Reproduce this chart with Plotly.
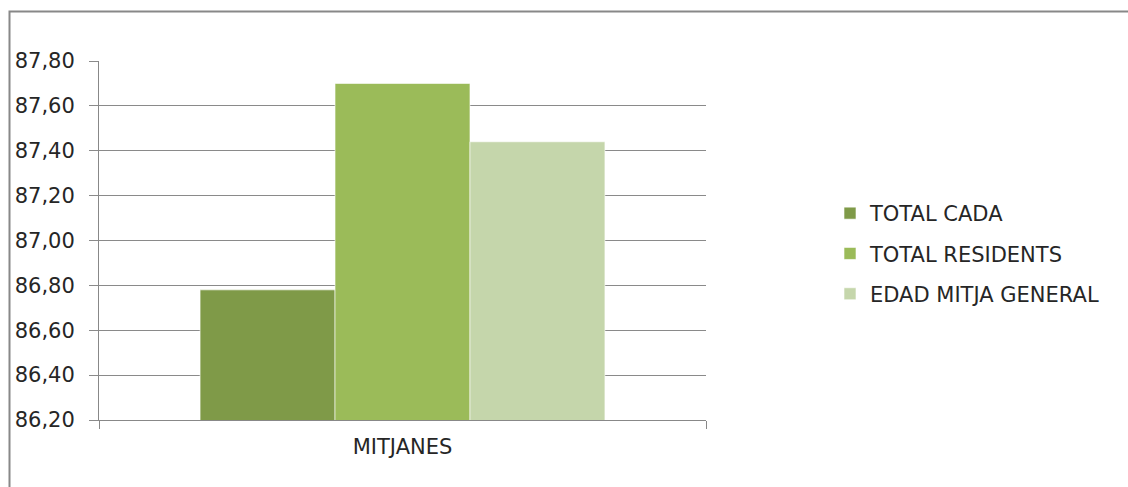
import plotly.graph_objects as go

categories = ["MITJANES"]
series_names = ["TOTAL CADA", "TOTAL RESIDENTS", "EDAD MITJA GENERAL"]
series_values = [[86.78], [87.70], [87.44]]
series_colors = ["#7F9A48", "#9BBB59", "#C5D6AB"]
y_ticks = [86.2, 86.4, 86.6, 86.8, 87.0, 87.2, 87.4, 87.6, 87.8]

W, H = 1128, 487
L, R, T, B = 99, 706, 61, 420
FONT = "DejaVu Sans"

fig = go.Figure()
for name, vals, col in zip(series_names, series_values, series_colors):
    fig.add_trace(go.Bar(
        x=categories, y=vals, name=name, legendgroup=name,
        marker=dict(color=col, line=dict(color="rgba(255,255,255,0.6)", width=1)),
    ))

def px_x(p):
    return (p - L) / (R - L)

def px_y(p):
    return (B - p) / (B - T)

fig.update_layout(
    width=W, height=H,
    margin=dict(l=L, r=W - R, t=T, b=H - B, pad=0),
    paper_bgcolor="white", plot_bgcolor="white",
    barmode="group", bargap=0.333, bargroupgap=0,
    separators=",.",
    font=dict(family=FONT, size=20, color="#262626"),
    showlegend=True,
    legend=dict(
        x=px_x(830), y=px_y(193), xanchor="left", yanchor="top",
        font=dict(family=FONT, size=21, color="#262626"),
        itemwidth=30, tracegroupgap=10, traceorder="grouped",
        bgcolor="rgba(0,0,0,0)",
    ),
    xaxis=dict(
        showline=True, linecolor="#888888", linewidth=1,
        ticks="outside", ticklen=8, tickcolor="#888888", tickson="boundaries",
        ticklabelstandoff=8,
        showgrid=False, tickfont=dict(family=FONT, size=21, color="#262626"),
    ),
    yaxis=dict(
        range=[86.2, 87.8], tickvals=y_ticks, tickformat=".2f",
        showline=True, linecolor="#888888", linewidth=1,
        showgrid=True, gridcolor="#8a8a8a", gridwidth=1,
        ticks="outside", ticklen=9, tickcolor="#8a8a8a",
        ticklabelstandoff=10,
        tickfont=dict(family=FONT, size=21, color="#262626"),
        zeroline=False,
    ),
    shapes=[dict(
        type="path", xref="paper", yref="paper",
        path=f"M {px_x(9.5)},{px_y(H + 5)} L {px_x(9.5)},{px_y(11.5)} L {px_x(W + 5)},{px_y(11.5)}",
        line=dict(color="#888888", width=2),
    )],
)

fig.write_html("out.html")
